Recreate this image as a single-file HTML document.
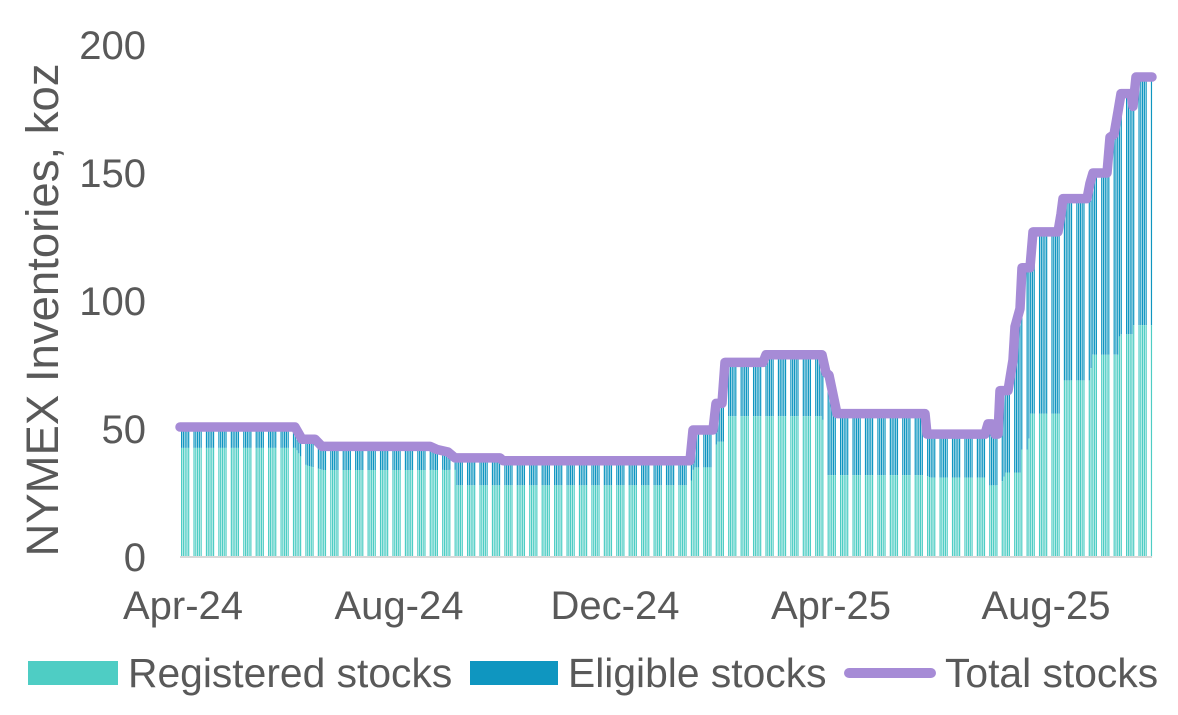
<!DOCTYPE html>
<html><head><meta charset="utf-8"><style>
html,body{margin:0;padding:0;background:#fff;width:1178px;height:715px;overflow:hidden}
svg text{font-family:"Liberation Sans",sans-serif;fill:#595959}
</style></head><body>
<svg id="s" width="1178" height="715" xmlns="http://www.w3.org/2000/svg">
<g id="bars"></g>
<line x1="180" y1="557" x2="1152" y2="557" stroke="#d9d9d9" stroke-width="2"/>
<polyline id="tot" fill="none" stroke="#a68bd6" stroke-width="9.5" stroke-linejoin="round" stroke-linecap="round"/>
<g font-size="40" text-anchor="end">
<text x="146" y="59">200</text><text x="146" y="187">150</text><text x="146" y="315">100</text><text x="146" y="443">50</text><text x="146" y="571">0</text>
</g>
<g font-size="40" text-anchor="middle">
<text x="183" y="619">Apr-24</text><text x="399" y="619">Aug-24</text><text x="615" y="619">Dec-24</text><text x="831" y="619">Apr-25</text><text x="1046" y="619">Aug-25</text>
</g>
<text transform="translate(58,310) rotate(-90)" font-size="45.5" text-anchor="middle">NYMEX Inventories, koz</text>
<rect x="28" y="661" width="90" height="24" fill="#4ecdc4"/>
<text x="128" y="687" font-size="40.8">Registered stocks</text>
<rect x="470" y="661" width="88" height="24" fill="#0f96c0"/>
<text x="568" y="687" font-size="40.8">Eligible stocks</text>
<line x1="849" y1="673" x2="931" y2="673" stroke="#a68bd6" stroke-width="10" stroke-linecap="round"/>
<text x="945" y="687" font-size="40.8">Total stocks</text>
</svg>
<script>
var T=[[180,50.8],[295,50.8],[302,46],[315,46],[322,43.2],[430,43.2],[437,42],[448,41],[455,38.7],[500,38.7],[503,37.6],[690,37.6],[693,49.6],[713,49.6],[716,60],[722,60],[725,76],[763,76],[766,79],[822,79],[826,72],[829,71],[837,56],[925,56],[927,48],[985,48],[988,52],[992,52],[995,48],[998,48],[1000,65],[1008,65],[1013,77],[1015,90],[1020,97],[1022,113],[1030,113],[1033,127],[1058,127],[1061,134],[1063,140],[1087,140],[1090,146],[1093,150],[1107,150],[1110,164],[1114,165],[1118,174],[1121,181],[1131,181],[1133,176],[1136,187.5],[1152,187.5]];
var R=[[180,42.6],[295,42.6],[305,36],[322,34],[455,34],[456,28],[690,28],[693,35],[713,35],[716,45],[723,45],[724,55],[822,55],[826,32],[925,32],[930,31],[985,31],[986,28],[1000,28],[1005,33],[1020,33],[1021,42],[1028,42],[1029,56],[1060,56],[1061,69],[1090,69],[1091,79],[1118,79],[1119,87],[1132,87],[1133,90.6],[1152,90.6]];
function iv(a,x){for(var i=1;i<a.length;i++){if(x<=a[i][0]){var p=a[i-1],q=a[i];var t=(x-p[0])/(q[0]-p[0]||1);return p[1]+t*(q[1]-p[1]);}}return a[a.length-1][1];}
function Y(v){return 557-v*2.56;}
var pts=T.map(function(p){return p[0]+","+Y(p[1]).toFixed(1)}).join(" ");
document.getElementById("tot").setAttribute("points",pts);
var g="",step=54/30.4,d=0;
for(var x=181;x<1152;x+=step,d++){var w=d%7;if(w==5||w==6)continue;
var t=iv(T,x)-1.2,r=Math.min(iv(R,x),t);
g+='<rect x="'+x.toFixed(2)+'" y="'+Y(t).toFixed(1)+'" width="1.2" height="'+((t-r)*2.56).toFixed(1)+'" fill="#0f96c0"/>';
g+='<rect x="'+x.toFixed(2)+'" y="'+Y(r).toFixed(1)+'" width="1.2" height="'+(r*2.56).toFixed(1)+'" fill="#4ecdc4"/>';}
document.getElementById("bars").innerHTML=g;
</script>
</body></html>
